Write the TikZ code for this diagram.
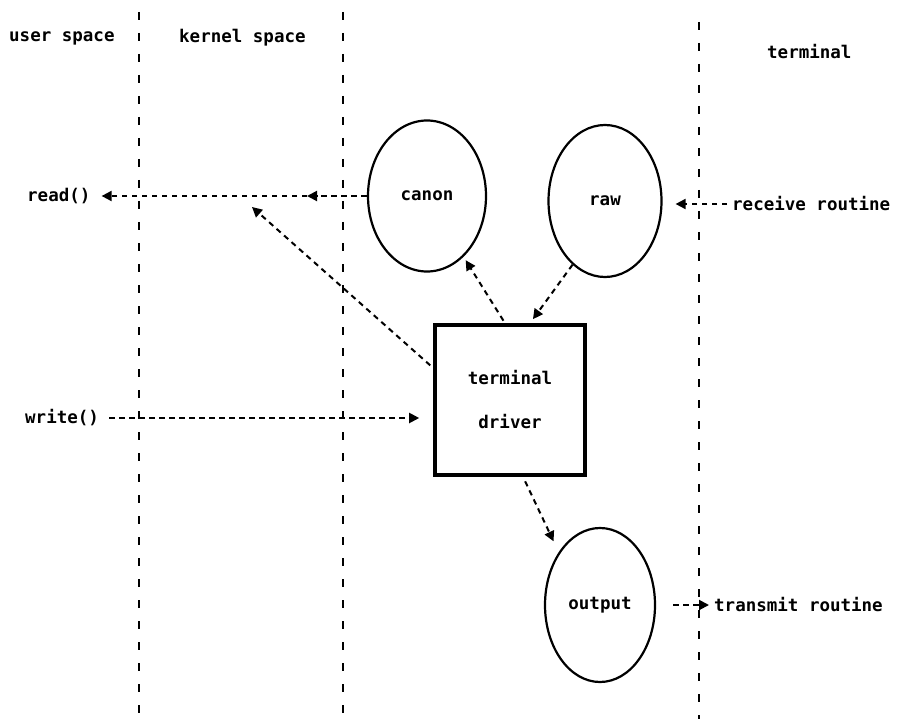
\documentclass[tikz,border=0pt]{standalone}
\usepackage{fontspec}
\setmonofont{DejaVu Sans Mono}
\usetikzlibrary{shapes.geometric,arrows.meta}
\begin{document}
\begin{tikzpicture}[x=1pt,y=-1pt,
  lbl/.style={font=\ttfamily\bfseries\fontsize{17.5}{20}\selectfont, inner sep=0pt},
  proc/.style={ellipse, draw, line width=2.2pt, lbl},
  drv/.style={rectangle, draw, line width=3.6pt, lbl, align=center, minimum width=150pt, minimum height=150pt},
  divider/.style={line width=1.8pt, dash pattern=on 8pt off 13pt},
  flow/.style={line width=2pt, dash pattern=on 5.5pt off 4.5pt, -{Triangle[length=10pt,width=10pt]}}
]
\useasboundingbox (0,0) rectangle (901,719);
\fill[white] (0,0) rectangle (901,719);

% dividers
\coordinate (d1t) at (139,12); \coordinate (d1b) at (139,719);
\coordinate (d2t) at (343,12); \coordinate (d2b) at (343,719);
\coordinate (d3t) at (699,22); \coordinate (d3b) at (699,719);
\draw[divider] (d1t) -- (d1b);
\draw[divider] (d2t) -- (d2b);
\draw[divider] (d3t) -- (d3b);

% region labels
\node[lbl, anchor=west] (us) at (9,38) {user space};
\node[lbl, anchor=west] (ks) at (179,38) {kernel space};
\node[lbl, anchor=west] (tm) at (767,52) {terminal};

% processing nodes
\node[proc, minimum width=118pt, minimum height=151pt] (canon) at (427,196) {canon};
\node[proc, minimum width=113pt, minimum height=152pt] (raw) at (605,201) {raw};
\node[proc, minimum width=110pt, minimum height=154pt] (output) at (600,605) {output};
\node[drv] (box) at (510,400) {terminal\\[24pt]driver};

% side labels
\node[lbl, anchor=west] (read) at (27,196) {read()};
\node[lbl, anchor=west] (write) at (25,418) {write()};
\node[lbl, anchor=west] (recv) at (732,204) {receive routine};
\node[lbl, anchor=west] (trans) at (714,605) {transmit routine};

\coordinate (mid) at (307,196);
\coordinate (diagtip) at (252,207);

% connectors
\draw[flow] (canon.west) -- (mid);
\draw[flow] (mid) -- (read.east) [shorten >=11pt];
\draw[flow, shorten <=4pt] ([yshift=32pt]box.west) -- (diagtip);
\draw[flow, shorten <=10pt, shorten >=14pt] (write.east) -- (box.west |- write.east);
\draw[flow, shorten <=5pt, shorten >=13pt] (recv.west) -- (raw.east |- recv.west);
\draw[flow, shorten <=3pt, shorten >=4pt] ([xshift=-5pt]box.north) -- (canon.-59);
\draw[flow, shorten >=5pt] (raw.243) -- ([xshift=20pt]box.north);
\draw[flow, shorten <=5pt, shorten >=12pt] ([xshift=13pt]box.south) -- (output.128);
\draw[flow, shorten <=17pt, shorten >=5pt] (output.east |- trans.west) -- (trans.west);
\end{tikzpicture}
\end{document}
